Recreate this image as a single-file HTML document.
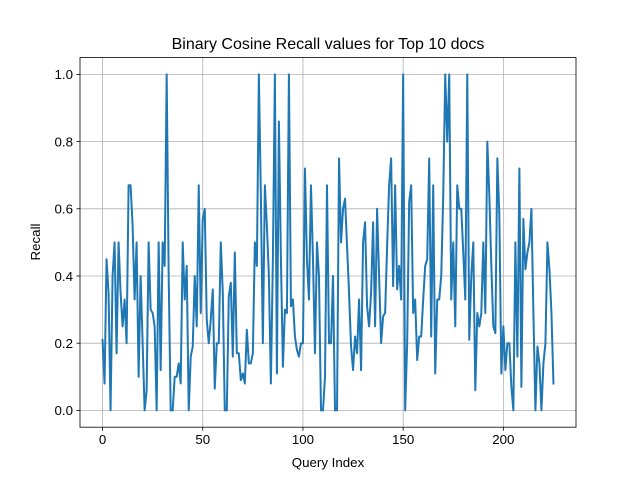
<!DOCTYPE html>
<html><head><meta charset="utf-8"><style>
html,body{margin:0;padding:0;background:#fff;}
svg text{font-family:"Liberation Sans","DejaVu Sans",sans-serif;fill:#000;}
</style></head><body>
<svg id="chart" width="640" height="480" viewBox="0 0 640 480" xmlns="http://www.w3.org/2000/svg">
<rect width="640" height="480" fill="#fff"/>
<g id="grid"></g>
<g id="ticks"></g>
<path id="line" fill="none" stroke="#1f77b4" stroke-width="2" stroke-linejoin="round" stroke-linecap="square"/>
<rect x="80" y="57.6" width="496" height="369.6" fill="none" stroke="#000" stroke-width="0.8"/>
<text x="328" y="49" font-size="16" text-anchor="middle">Binary Cosine Recall values for Top 10 docs</text>
<text x="328" y="467" font-size="13.3" text-anchor="middle">Query Index</text>
<text x="0" y="0" font-size="13.3" text-anchor="middle" transform="translate(40,242) rotate(-90)">Recall</text>
</svg>
<script>
const recall = [0.21,0.08,0.45,0.35,0,0.4,0.5,0.17,0.5,0.35,0.25,0.33,0.2,0.67,0.67,0.55,0.33,0.5,0.1,0.4,0.2,0,0.06,0.5,0.3,0.29,0.25,0,0.5,0.12,0.5,0.43,1.0,0.4,0,0,0.1,
0.1,0.14,0.08,0.5,0.33,0.43,0,0.16,0.19,0.4,0.25,0.67,0.29,0.57,0.6,0.27,0.2,0.27,0.36,0.065,0.2,0.2,0.5,0.35,0,0,0.34,0.38,0.16,0.47,0.17,0.17,0.09,0.11,0.08,0.24,0.14,
0.14,0.17,0.5,0.43,1.0,0.64,0.2,0.67,0.55,0.4,0.08,0.45,1.0,0.11,0.86,0.45,0.13,0.3,0.29,1.0,0.31,0.33,0.22,0.18,0.16,0.2,0.2,0.72,0.45,0.33,0.67,0.45,0.17,0.5,0.4,0,0,0.1,0.67,
0.2,0.2,0.4,0,0,0.75,0.5,0.6,0.63,0.49,0.35,0.19,0.12,0.22,0.17,0.33,0.12,0.5,0.56,0.31,0.25,0.35,0.56,0.25,0.6,0.4,0.2,0.28,0.29,0.49,0.67,0.75,0.37,0.67,0.36,0.43,0.33,
1.0,0,0.2,0.62,0.67,0.29,0.33,0.15,0.22,0.22,0.33,0.43,0.45,0.75,0.22,0.67,0.11,0.33,0.33,0.4,0.64,1.0,0.8,1.0,0.33,0.5,0.25,0.67,0.6,0.6,0.47,0.33,1.0,0.21,0.4,0.5,0.06,
0.29,0.25,0.29,0.5,0.29,0.8,0.64,0.43,0.25,0.23,0.75,0.58,0.11,0.25,0.12,0.2,0.2,0.07,0,0.5,0.16,0.72,0.07,0.57,0.42,0.47,0.5,0.6,0.29,0,0.19,0.14,0,0.14,0.2,0.5,0.42,0.29,0.08];
const xTicks = [0,50,100,150,200];
const yTicks = [0,0.2,0.4,0.6,0.8,1.0];
const yTickLabels = ["0.0","0.2","0.4","0.6","0.8","1.0"];

const L=80,R=576,T=57.6,B=427.2;
const n=recall.length, xmin=-0.05*(n-1), xmax=(n-1)*1.05;
const ymin=-0.05, ymax=1.05;
const sx=v=>L+(v-xmin)/(xmax-xmin)*(R-L);
const sy=v=>B-(v-ymin)/(ymax-ymin)*(B-T);
const NS="http://www.w3.org/2000/svg";
const grid=document.getElementById('grid'), ticks=document.getElementById('ticks');
function mk(tag,attrs,parent){const e=document.createElementNS(NS,tag);for(const k in attrs)e.setAttribute(k,attrs[k]);parent.appendChild(e);return e;}
xTicks.forEach(t=>{
  const x=sx(t);
  const g=mk('line',{x1:x,x2:x,y1:T,y2:B,stroke:'#b0b0b0','stroke-width':0.8},grid);
  
  
  const tk=mk('line',{x1:x,x2:x,y1:B,y2:B+3.5,stroke:'#000','stroke-width':0.8},ticks);
  
  
  const tx=mk('text',{x:x,y:B+17,'font-size':13.3,'text-anchor':'middle'},ticks);
  
  
  tx.textContent=t;
});
yTicks.forEach((t,i)=>{
  const y=sy(t);
  const g=mk('line',{x1:L,x2:R,y1:y,y2:y,stroke:'#b0b0b0','stroke-width':0.8},grid);
  
  
  const tk=mk('line',{x1:L-3.5,x2:L,y1:y,y2:y,stroke:'#000','stroke-width':0.8},ticks);
  
  
  const tx=mk('text',{x:L-7,y:y+4.8,'font-size':13.3,'text-anchor':'end'},ticks);
  
  
  tx.textContent=yTickLabels[i];
});
document.getElementById('line').setAttribute('d',recall.map((v,i)=>(i?'L':'M')+sx(i).toFixed(2)+' '+sy(v).toFixed(2)).join(' '));
</script>
</body></html>
